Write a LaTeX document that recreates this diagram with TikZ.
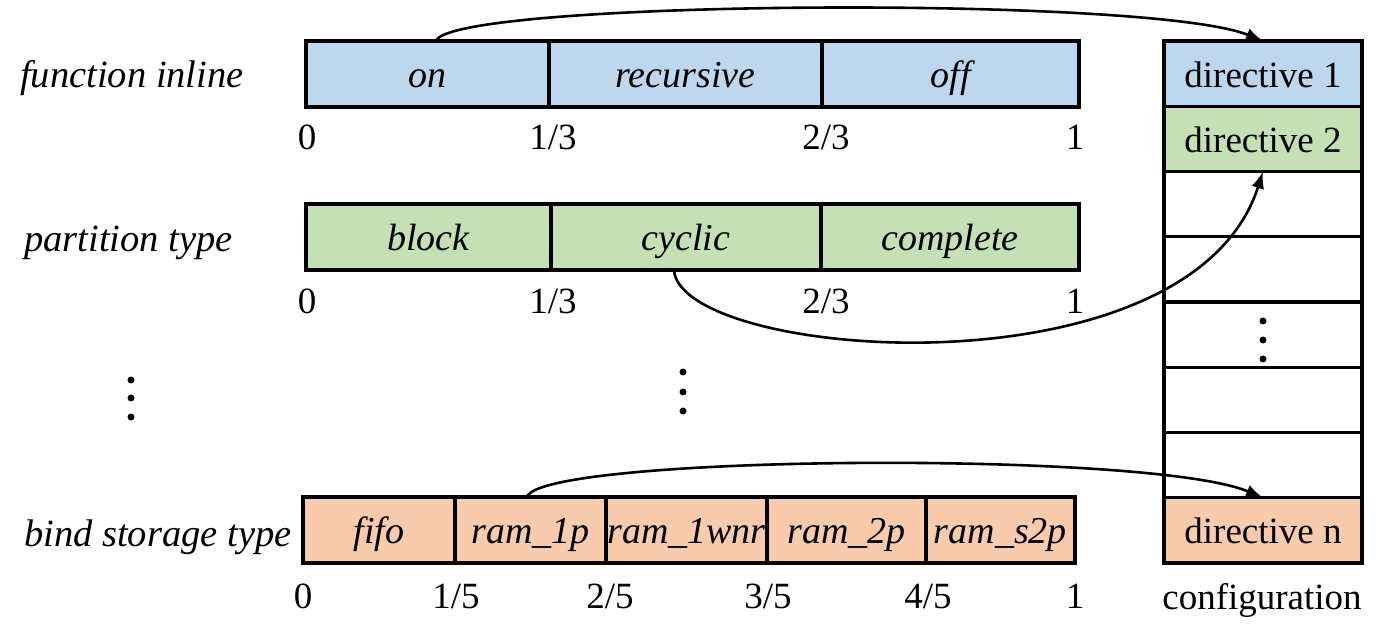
\documentclass[tikz,border=0pt]{standalone}
\usepackage{fontspec}
\setmainfont{Liberation Serif}
\usetikzlibrary{arrows.meta, positioning}
\definecolor{inlineBlue}{RGB}{189,215,238}
\definecolor{partGreen}{RGB}{197,224,180}
\definecolor{bindOrange}{RGB}{248,203,173}

\begin{document}
\begin{tikzpicture}[
      x=1pt, y=-1pt,
      font=\fontsize{37}{40}\selectfont,
      cell/.style={draw, line width=3.2pt, minimum height=66pt, inner sep=0pt, outer sep=0pt,
                   text height=27pt, text depth=0pt, font=\fontsize{38}{40}\selectfont\itshape},
      slot/.style={draw, line width=3.2pt, minimum width=198pt, minimum height=65.25pt,
                   inner sep=0pt, outer sep=0pt, text height=27pt, text depth=0pt},
      param/.style={anchor=base west, inner sep=0pt, font=\fontsize{38.5}{40}\selectfont\itshape},
      tick/.style={anchor=base, inner sep=0pt},
      arr/.style={-{Latex[length=17pt,width=13pt]}, line width=2.6pt},
      dot/.style={fill, circle, inner sep=0pt, minimum size=7pt}
    ]
      \useasboundingbox (0,0) rectangle (1385,644);

      % parameter names
      \node[param] (pInline) at (20,88)  {function inline};
      \node[param] (pPart)   at (24,252) {partition type};
      \node[param] (pBind)   at (24,546) {bind storage type};

      % function inline
      \node[cell, fill=inlineBlue, anchor=north west, minimum width=243pt] (on) at (306,41) {on};
      \node[cell, fill=inlineBlue, right=0pt of on,  minimum width=273pt] (rec) {recursive};
      \node[cell, fill=inlineBlue, right=0pt of rec, minimum width=257pt] (off) {off};

      % partition type
      \node[cell, fill=partGreen, anchor=north west, minimum width=245pt] (blk) at (306,204) {block};
      \node[cell, fill=partGreen, right=0pt of blk, minimum width=270pt] (cyc) {cyclic};
      \node[cell, fill=partGreen, right=0pt of cyc, minimum width=258pt] (cmp) {complete};

      % bind storage type
      \node[cell, fill=bindOrange, anchor=north west, minimum width=152pt] (fifo) at (303,497) {fifo};
      \node[cell, fill=bindOrange, right=0pt of fifo, minimum width=151pt] (r1p)  {ram\_1p};
      \node[cell, fill=bindOrange, right=0pt of r1p,  minimum width=161pt] (r1w)  {ram\_1wnr};
      \node[cell, fill=bindOrange, right=0pt of r1w,  minimum width=159pt] (r2p)  {ram\_2p};
      \node[cell, fill=bindOrange, right=0pt of r2p,  minimum width=149pt] (rs2p) {ram\_s2p};

      % tick labels
      \foreach \x/\t in {307/0, 553/{1/3}, 826/{2/3}, 1075/1}
        \node[tick] (ta\x) at (\x,150) {\t};
      \foreach \x/\t in {307/0, 553/{1/3}, 826/{2/3}, 1075/1}
        \node[tick] (tb\x) at (\x,314) {\t};
      \foreach \x/\t in {303/0, 456/{1/5}, 610/{2/5}, 768/{3/5}, 928/{4/5}, 1075/1}
        \node[tick] (tc\x) at (\x,608) {\t};

      % configuration column
      \node[slot, fill=inlineBlue, anchor=north west] (d1) at (1164,41) {directive 1};
      \node[slot, fill=partGreen, below=0pt of d1] (d2) {directive 2};
      \foreach \i [evaluate=\i as \j using int(\i-1)] in {3,...,7}
        \node[slot, below=0pt of d\j] (d\i) {};
      \node[slot, fill=bindOrange, below=0pt of d7] (dn) {directive n};
      \node[tick] (config) at (1262,609) {configuration};

      % vertical dots
      \foreach \y [count=\k] in {380,398,417}
        \node[dot] (dl\k) at (131,\y) {};
      \foreach \y [count=\k] in {372,392,411}
        \node[dot] (dm\k) at (683,\y) {};
      \foreach \y [count=\k] in {321,340,359}
        \node[dot] (dc\k) at (1263,\y) {};

      % mapping arrows
      \draw[arr] (436,41) .. controls (450,0) and (1150,-5) .. (d1.north);
      \draw[arr] (674,270) .. controls (680,360) and (1190,400) .. (d2.south);
      \draw[arr] (527,497) .. controls (540,455) and (1150,450) .. (dn.north);
    \end{tikzpicture}
\end{document}
